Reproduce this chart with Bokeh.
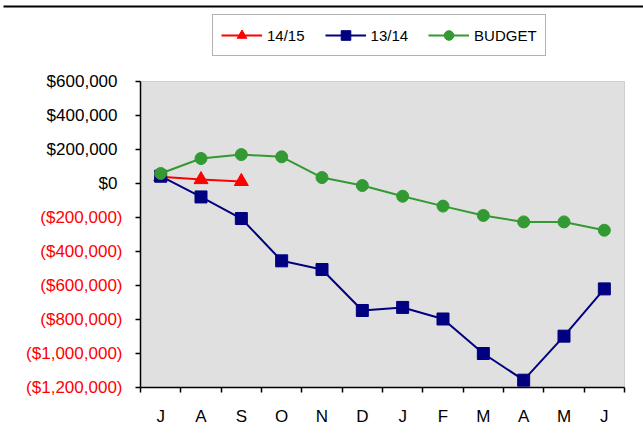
from bokeh.plotting import figure
from bokeh.models import (Range1d, FixedTicker, Legend, LegendItem, LinearAxis,
                          BoxAnnotation)
from bokeh.embed import file_html
from bokeh.resources import INLINE

# ---- data ----
months = ["J", "A", "S", "O", "N", "D", "J", "F", "M", "A", "M", "J"]
fy_1415 = [40000, 23000, 12000]
fy_1314 = [43000, -79000, -206000, -455000, -506000, -747000, -729000,
           -797000, -1000000, -1157000, -898000, -620000]
budget = [59000, 147000, 170000, 157000, 35000, -12000, -75000,
          -133000, -188000, -226000, -226000, -275000]
y_ticks = [600000, 400000, 200000, 0, -200000, -400000, -600000,
           -800000, -1000000, -1200000]
series_names = ["14/15", "13/14", "BUDGET"]

FONT = "Liberation Sans"
W, H = 643, 445
# plot-area position in pixels (left, right, top, bottom)
PL, PR, PT, PB = 140, 624, 81, 387


def money(v):
    s = "${:,.0f}".format(abs(v))
    return "(" + s + ")" if v < 0 else s


n = len(months)
xc = [i + 0.5 for i in range(n)]
ymin, ymax = min(y_ticks), max(y_ticks)

# extend ranges so that the data area lands on the plot-area pixels
xs = n / (PR - PL)
ys = (ymax - ymin) / (PB - PT)
x_range = Range1d(0 - PL * xs, n + (W - PR) * xs)
y_range = Range1d(ymin - (H - PB) * ys, ymax + PT * ys)

p = figure(width=W, height=H, output_backend="svg", toolbar_location=None,
           x_range=x_range, y_range=y_range,
           min_border_left=0, min_border_right=0, min_border_top=0,
           min_border_bottom=0)
p.title.visible = False
p.background_fill_color = "white"
p.border_fill_color = "white"
p.outline_line_color = None
p.xgrid.visible = False
p.ygrid.visible = False

# grey plot area
p.add_layout(BoxAnnotation(left=0, right=n, bottom=ymin, top=ymax,
                           fill_color="#E0E0E0", fill_alpha=1,
                           line_color="#808080", line_width=1, level="underlay"))

# heavy rule across the top of the page (pixels 5..7 from the top)
p.add_layout(BoxAnnotation(left=(3 - PL) * xs, right=n + (W - PR) * xs,
                           bottom=ymax + (PT - 7) * ys, top=ymax + (PT - 5) * ys,
                           fill_color="black", fill_alpha=1, line_color=None,
                           level="overlay"))

# x axis: labels at category centres, ticks at boundaries
xa = p.xaxis[0]
xa.fixed_location = ymin
xa.bounds = (0, n)
xa.ticker = FixedTicker(ticks=xc, minor_ticks=list(range(n + 1)))
xa.major_label_overrides = {c: m for c, m in zip(xc, months)}
xa.major_tick_out = 0
xa.major_tick_in = 0
xa.minor_tick_out = 5
xa.minor_tick_in = 0
xa.minor_tick_line_color = "black"
xa.minor_tick_line_width = 1.5
xa.axis_line_color = "black"
xa.axis_line_width = 1.5
xa.major_label_text_font = FONT
xa.major_label_text_font_size = "17px"
xa.major_label_text_color = "black"
xa.major_label_standoff = 14

# y axis: positive labels in black
ya = p.yaxis[0]
ya.fixed_location = 0
ya.bounds = (ymin, ymax)
ya.ticker = FixedTicker(ticks=y_ticks, minor_ticks=[])
ya.major_label_overrides = {t: (money(t) if t >= 0 else "") for t in y_ticks}
ya.major_tick_out = 5
ya.major_tick_in = 0
ya.major_tick_line_color = "black"
ya.major_tick_line_width = 1.5
ya.axis_line_color = "black"
ya.axis_line_width = 1.5
ya.major_label_text_font = FONT
ya.major_label_text_font_size = "17px"
ya.major_label_text_color = "black"
ya.major_label_standoff = 18

# second y axis at the same place carrying the negative labels in red
ya2 = LinearAxis(ticker=FixedTicker(ticks=y_ticks, minor_ticks=[]))
ya2.fixed_location = 0
ya2.bounds = (ymin, ymax)
ya2.major_label_overrides = {t: (money(t) if t < 0 else "") for t in y_ticks}
ya2.major_tick_out = 0
ya2.major_tick_in = 0
ya2.minor_tick_out = 0
ya2.minor_tick_in = 0
ya2.axis_line_color = None
ya2.major_tick_line_color = None
ya2.minor_tick_line_color = None
ya2.major_label_text_font = FONT
ya2.major_label_text_font_size = "17px"
ya2.major_label_text_color = "#FF0000"
ya2.major_label_standoff = 18
p.add_layout(ya2, "left")

# series
r1l = p.line(xc[:len(fy_1415)], fy_1415, line_color="#FF0000", line_width=2)
r1m = p.scatter(xc[:len(fy_1415)], fy_1415, marker="triangle", size=14,
                fill_color="#FF0000", line_color="#FF0000")
r2l = p.line(xc, fy_1314, line_color="#000080", line_width=2)
r2m = p.scatter(xc, fy_1314, marker="square", size=12,
                fill_color="#000080", line_color="#000080")
r3l = p.line(xc, budget, line_color="#339933", line_width=2)
r3m = p.scatter(xc, budget, marker="circle", size=12,
                fill_color="#339933", line_color="#339933")

legend = Legend(items=[LegendItem(label=series_names[0], renderers=[r1l, r1m]),
                       LegendItem(label=series_names[1], renderers=[r2l, r2m]),
                       LegendItem(label=series_names[2], renderers=[r3l, r3m])],
                orientation="horizontal", location=(212, H - 56), margin=0,
                padding=8, glyph_width=41, glyph_height=24, label_height=24,
                label_standoff=5, spacing=20,
                label_text_font=FONT, label_text_font_size="15px",
                label_text_color="black",
                border_line_color="#666666", border_line_width=1,
                background_fill_color="white", background_fill_alpha=1)
p.add_layout(legend, "center")

open("out.html", "w").write(file_html(p, INLINE))
